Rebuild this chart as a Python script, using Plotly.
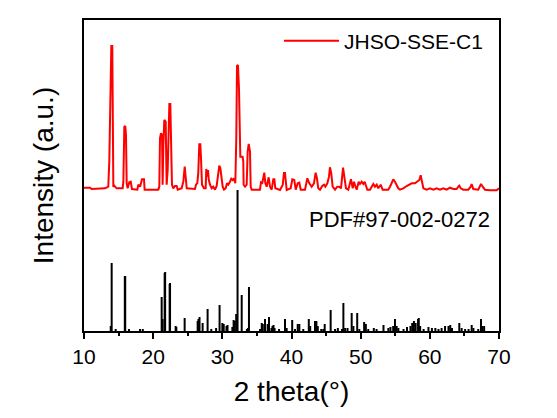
import plotly.graph_objects as go

# measured pattern JHSO-SSE-C1 (2theta in degrees, intensity above background, a.u.)
two_theta = [
    10.00, 10.87, 11.10, 13.04, 13.51, 13.66, 13.80, 13.95, 14.09, 14.15, 14.24, 14.38, 14.58, 14.72,
    15.59, 15.69, 15.83, 15.97, 16.07, 16.17, 16.31, 16.55, 16.75, 16.94, 17.71, 17.85, 18.10, 18.39,
    18.67, 18.77, 20.74, 20.89, 20.99, 21.13, 21.28, 21.37, 21.47, 21.61, 21.81, 21.95, 22.10, 22.24,
    22.34, 22.48, 22.58, 22.72, 22.91, 23.16, 23.40, 23.55, 24.12, 24.36, 24.56, 24.75, 24.85, 26.05,
    26.19, 26.38, 26.52, 26.67, 26.81, 26.91, 27.06, 27.35, 27.59, 27.68, 27.83, 27.93, 28.03, 28.22,
    28.46, 28.69, 28.94, 29.18, 29.37, 29.56, 29.71, 29.85, 30.05, 30.24, 30.49, 30.67, 30.86, 31.11,
    31.30, 31.50, 31.69, 31.88, 32.02, 32.12, 32.26, 32.41, 32.51, 32.60, 32.93, 33.03, 33.08, 33.28,
    33.52, 33.66, 33.81, 34.00, 34.10, 34.24, 35.44, 35.59, 35.78, 35.98, 36.07, 36.21, 36.41, 36.70,
    36.89, 37.13, 37.37, 37.52, 37.66, 38.34, 38.73, 38.91, 39.06, 39.30, 39.88, 40.12, 40.40, 40.61,
    40.89, 41.13, 41.33, 41.95, 42.29, 42.58, 42.92, 43.25, 43.49, 43.68, 43.87, 44.12, 44.45, 44.70,
    44.89, 45.18, 45.42, 45.56, 45.75, 45.95, 46.29, 46.62, 46.91, 47.16, 47.30, 47.45, 47.64, 47.88,
    48.21, 48.46, 48.60, 48.85, 49.03, 49.22, 49.42, 49.71, 49.90, 50.15, 50.38, 50.58, 50.77, 50.96,
    51.35, 51.83, 52.07, 52.32, 52.55, 52.89, 53.18, 53.99, 54.24, 54.48, 54.72, 54.96, 55.21, 55.44,
    55.68, 56.16, 56.65, 57.03, 57.38, 57.85, 58.19, 58.48, 58.68, 58.87, 59.06, 59.55, 60.02, 60.50,
    60.99, 61.47, 61.94, 62.43, 62.91, 63.39, 63.88, 64.11, 64.26, 64.46, 64.84, 65.56, 65.91, 66.05,
    66.28, 67.00, 67.25, 67.40, 67.64, 67.97, 68.70, 69.66, 70.00,
]
intensity = [
    1.3, 1.3, 0.0, 0.7, 2.3, 28.0, 84.0, 143.0, 143.0, 22.0, 2.3, 3.3, 1.3, 0.7,
    0.7, 7.3, 62.3, 63.0, 54.0, 5.7, 0.7, 6.7, 7.3, 0.0, -0.7, 4.3, 2.3, 9.7,
    9.7, -0.7, -0.7, 2.3, 50.7, 55.7, 54.0, 4.3, 44.0, 69.0, 67.3, 4.3, 19.0, 47.3,
    85.0, 85.0, 57.3, 4.3, 0.7, 3.0, 3.0, -0.7, 0.7, 7.3, 22.3, 10.7, 0.7, 0.0,
    4.3, 6.0, 16.0, 44.7, 44.7, 32.3, 4.3, 0.7, 0.7, 20.0, 12.3, 19.0, 9.7, 4.3,
    0.7, 2.3, -0.7, 3.0, 16.0, 23.3, 21.0, 9.7, 2.3, -0.7, 0.7, 5.7, 4.3, 7.3,
    10.3, 9.0, 10.7, 5.7, 52.3, 123.0, 124.0, 100.0, 32.3, 32.3, 32.3, 27.3, 4.3, 2.3,
    4.3, 37.3, 45.0, 37.3, 2.3, -0.7, -0.7, 6.7, 6.0, 16.3, 16.3, 6.0, 2.3, 11.7,
    2.3, -0.7, 9.7, 9.7, 0.7, -1.0, 4.0, 16.0, 16.0, -1.0, 0.7, 9.7, 9.0, -0.7,
    5.7, 6.3, -0.7, -0.7, 10.7, 5.7, 2.3, 5.7, 16.3, 10.7, 0.7, -0.7, 3.0, 4.3,
    2.3, 5.7, 12.3, 21.7, 15.7, 2.3, -0.7, 2.3, 2.3, 0.7, 10.7, 21.3, 12.3, 0.7,
    -0.7, 5.7, 9.7, 0.7, 7.3, 3.0, -0.7, 7.3, 5.0, 7.3, 5.0, 7.3, 2.3, -0.7,
    -0.7, 5.0, 2.3, 4.3, 0.7, 4.3, -0.7, -0.7, 2.3, 6.3, 9.7, 7.3, 3.0, 0.7,
    -0.7, 0.7, 3.0, 4.3, 5.7, 5.7, 7.3, 9.0, 13.7, 7.3, 0.7, -0.7, 0.7, -0.7,
    0.7, -0.7, 0.7, -0.7, 1.3, 0.0, 0.0, 2.3, 3.3, 0.7, -0.7, -0.7, 2.3, 5.0,
    0.0, -0.7, 3.0, 5.0, 2.3, -0.7, -1.3, -1.3, 0.7,
]
offset = 142

# reference card PDF#97-002-0272 (stick positions and relative heights)
ref_theta = [
    13.86, 14.00, 14.58, 15.90, 15.96, 16.50, 18.10, 18.50, 21.23, 21.37, 21.66, 21.73, 22.38, 22.44,
    23.25, 23.35, 24.55, 26.43, 26.55, 26.70, 27.15, 27.87, 28.40, 29.10, 29.60, 30.00, 30.20, 30.60,
    30.75, 31.45, 31.60, 31.63, 31.78, 32.00, 32.20, 32.80, 33.55, 33.70, 33.85, 35.45, 35.70, 35.85,
    36.17, 36.55, 36.75, 37.10, 37.25, 37.40, 37.55, 38.20, 39.06, 39.30, 40.10, 40.50, 40.90, 41.13,
    41.70, 42.50, 42.70, 43.40, 43.60, 43.80, 44.30, 44.60, 44.80, 45.66, 46.30, 46.70, 47.30, 47.50,
    47.75, 48.10, 48.70, 48.95, 49.50, 49.80, 50.50, 50.75, 51.10, 51.90, 52.30, 53.30, 54.00, 54.30,
    54.70, 54.96, 55.20, 55.45, 56.20, 56.70, 57.20, 57.45, 57.70, 57.95, 58.30, 58.40, 58.60, 59.10,
    59.80, 60.30, 60.80, 61.25, 61.70, 62.20, 62.70, 62.95, 63.20, 64.26, 64.60, 65.10, 65.60, 66.05,
    66.30, 67.00, 67.40, 67.60, 67.85,
]
ref_height = [
    5, 68, 2, 55, 55, 2, 2, 2, 34, 12, 58, 59, 47, 48,
    5, 4, 13, 10, 12, 14, 8, 22, 2, 3, 26, 8, 7, 5,
    6, 4, 4, 11, 10, 17, 141, 36, 2, 3, 44, 2, 8, 7,
    12, 7, 14, 3, 5, 6, 3, 2, 12, 3, 11, 2, 7, 7,
    2, 12, 5, 10, 10, 5, 2, 2, 7, 21, 2, 3, 2, 28,
    3, 3, 18, 5, 18, 2, 9, 7, 2, 3, 2, 6, 3, 4,
    5, 12, 5, 3, 2, 4, 5, 8, 10, 8, 12, 13, 5, 2,
    4, 3, 3, 2, 3, 5, 5, 6, 3, 8, 3, 2, 2, 6,
    3, 2, 12, 5, 5,
]

FONT = "Arial, 'Liberation Sans', sans-serif"

stick_x, stick_y = [], []
for t, h in zip(ref_theta, ref_height):
    stick_x += [t, t, None]
    stick_y += [0, h, None]

fig = go.Figure()
fig.add_trace(go.Scatter(
    x=two_theta, y=[v + offset for v in intensity], mode="lines",
    line=dict(color="#ff0000", width=2), name="JHSO-SSE-C1",
))
fig.add_trace(go.Scatter(
    x=stick_x, y=stick_y, mode="lines",
    line=dict(color="#000000", width=2), showlegend=False,
))

# the page body has an 8px default margin, so the figure is drawn 8px right/down
fig.add_annotation(
    x=(492 - 84) / 415, y=(331 - 219) / 311, xref="paper", yref="paper",
    xanchor="right", yanchor="middle", text="PDF#97-002-0272",
    showarrow=False, font=dict(size=22, color="#000000", family=FONT),
)

fig.update_xaxes(
    range=[10, 70], tickvals=[10, 20, 30, 40, 50, 60, 70],
    ticks="outside", ticklen=6, tickwidth=2, tickcolor="black",
    minor=dict(tickvals=[15, 25, 35, 45, 55, 65], ticks="outside", ticklen=3,
               tickwidth=2, tickcolor="black"),
    showline=True, linewidth=2, linecolor="black", mirror=True,
    showgrid=False, zeroline=False,
    tickfont=dict(size=21, color="#000000", family=FONT),
    title=dict(text="2 theta(°)", font=dict(size=28, color="#000000", family=FONT), standoff=14),
)
fig.update_yaxes(
    range=[0, 311], showticklabels=False, ticks="",
    showline=True, linewidth=2, linecolor="black", mirror=True,
    showgrid=False, zeroline=False,
    title=dict(text="Intensity (a.u.)", font=dict(size=28, color="#000000", family=FONT), standoff=20),
)

fig.update_layout(
    width=557, height=418,
    margin=dict(l=76, r=66, t=12, b=95, autoexpand=False),
    plot_bgcolor="white", paper_bgcolor="white",
    legend=dict(x=(488 - 84) / 415, y=(331 - 41) / 311, xanchor="right", yanchor="middle",
                bgcolor="rgba(0,0,0,0)", itemwidth=55,
                font=dict(size=21, color="#000000", family=FONT)),
    font=dict(family=FONT),
)

fig.write_html("out.html")
